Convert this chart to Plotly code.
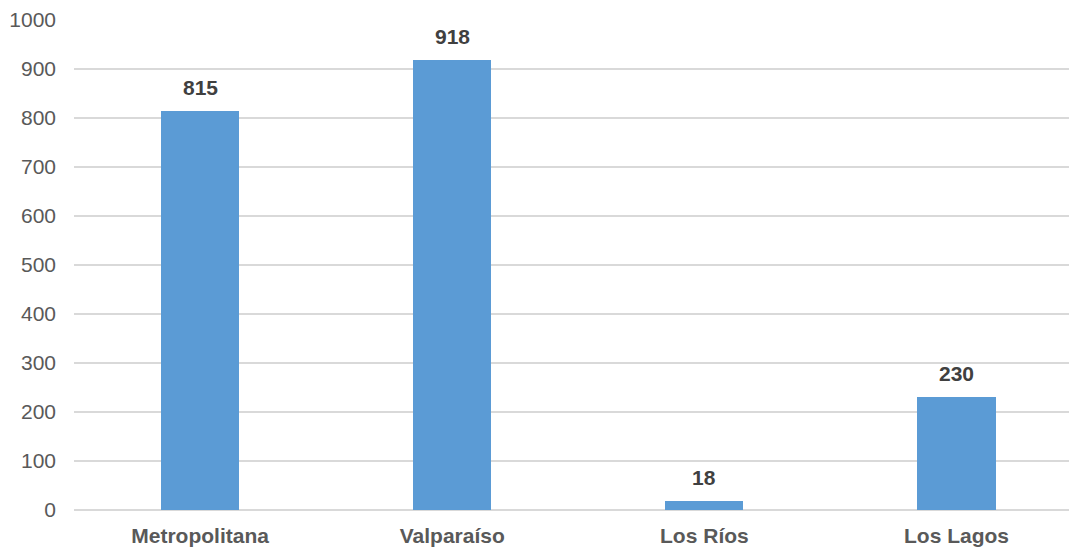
import plotly.graph_objects as go

categories = ["Metropolitana", "Valparaíso", "Los Ríos", "Los Lagos"]
values = [815, 918, 18, 230]
y_ticks = [0, 100, 200, 300, 400, 500, 600, 700, 800, 900, 1000]

FONT = "Liberation Sans, Arial"

fig = go.Figure()
fig.add_trace(go.Bar(
    x=list(range(len(categories))),
    y=values,
    width=0.31,
    marker=dict(color="#5B9BD5", line=dict(width=0)),
    hoverinfo="skip",
))

for i, v in enumerate(values):
    fig.add_annotation(
        x=i, y=v, text=f"<b>{v}</b>", showarrow=False,
        yanchor="bottom", yshift=10,
        font=dict(family=FONT, size=21, color="#404040"),
    )

fig.update_layout(
    width=1069, height=548,
    margin=dict(l=74, r=0, t=20, b=38),
    paper_bgcolor="white", plot_bgcolor="white",
    showlegend=False,
    bargap=0,
    xaxis=dict(
        range=[-0.5, 3.446],
        tickmode="array",
        tickvals=list(range(len(categories))),
        ticktext=[f"<b>{c}</b>" for c in categories],
        tickfont=dict(family=FONT, size=21, color="#595959"),
        showgrid=False, zeroline=False, showline=False,
        ticks="", ticklabelstandoff=11,
    ),
    yaxis=dict(
        range=[0, 1000],
        tickmode="array", tickvals=y_ticks,
        tickfont=dict(family=FONT, size=21, color="#595959"),
        showgrid=True, gridcolor="#D9D9D9", gridwidth=1.5,
        zeroline=True, zerolinecolor="#D9D9D9", zerolinewidth=1.5,
        showline=False, ticks="", ticklabelstandoff=17,
    ),
)

fig.write_html(
    "out.html",
    config={"displayModeBar": False},
    post_script="document.body.style.margin='0';document.body.style.overflow='hidden';",
)
